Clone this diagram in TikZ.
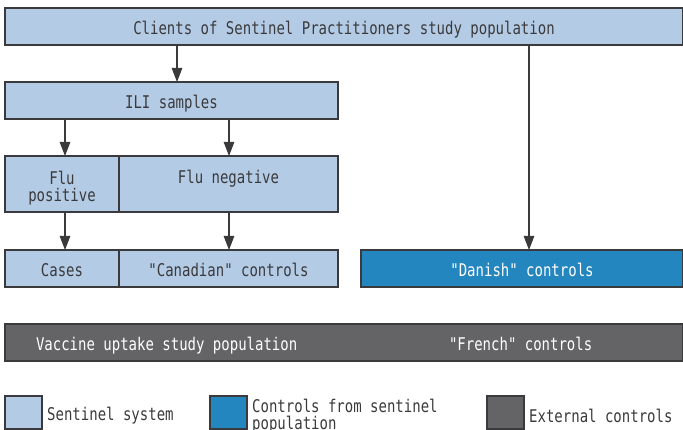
\documentclass[tikz,border=0pt]{standalone}
\usepackage{fontspec}
\setmainfont{DejaVu Sans Mono}[FakeStretch=0.8,Ligatures=TeXOff]
\usetikzlibrary{arrows.meta,positioning}
\definecolor{sentinelblue}{HTML}{B4CBE5}
\definecolor{controlblue}{HTML}{2486BF}
\definecolor{externalgray}{HTML}{646466}
\definecolor{edgegray}{HTML}{3A3A3C}

\begin{document}
\begin{tikzpicture}[x=1pt,y=-1pt,>={Triangle[length=14pt,width=10.5pt]},
	txt/.style={inner sep=0pt,outer sep=0pt,font=\fontsize{17.5}{17}\selectfont,
		text height=15.8pt,text depth=0pt},
	box/.style={txt,draw=edgegray,line width=1.3pt,anchor=north west,text=edgegray},
	arr/.style={->,draw=edgegray,line width=1.2pt}] % study design
	\useasboundingbox (0,0) rectangle (683,430);
	
	\node[box,fill=sentinelblue,minimum width=678,minimum height=37] 
	(clients) at (5,8){Clients of Sentinel Practitioners study population};
	\node[box,fill=sentinelblue,minimum width=333,minimum height=37] 
	(ili) at (5,82){ILI samples};
	
	\node[box,fill=sentinelblue,minimum width=114,minimum height=56,
	label={[txt,text=edgegray,align=center,text height=,text depth=,yshift=-4.4pt]center:Flu\\positive}] 
	(flupos) at (5,156){};
	\node[box,fill=sentinelblue,minimum width=219,minimum height=56,
	label={[txt,text=edgegray,yshift=8.5pt]center:Flu negative}] 
	(fluneg) at (flupos.north east){};
	
	\node[box,fill=sentinelblue,minimum width=114,minimum height=37] 
	(cases) at (5,250){Cases};
	\node[box,fill=sentinelblue,minimum width=219,minimum height=37] 
	(canadian) at (cases.north east){"Canadian" controls};
	\node[box,fill=controlblue,text=white,minimum width=322,minimum height=37] 
	(danish) at (361,250){"Danish" controls};
	
	\node[box,fill=externalgray,minimum width=678,minimum height=37] 
	(uptake) at (5,324){};
	\node[txt,text=white,anchor=west] 
	at ([xshift=31pt]uptake.west) {Vaccine uptake study population};
	\node[txt,text=white,anchor=west] 
	at ([xshift=444pt]uptake.west) {"French" controls};
	
	\draw[arr] ([xshift=5.5pt]ili.north |- clients.south)--([xshift=5.5pt]ili.north);
	\foreach \a/\b/\s in {flupos/cases/3pt, fluneg/canadian/0.5pt}{
		\draw[arr] ([xshift=\s]\a.north |- ili.south)--([xshift=\s]\a.north);
		\draw[arr] ([xshift=\s]\a.south)--([xshift=\s]\b.north);}
	\draw[arr] ([xshift=7pt]danish.north |- clients.south)--([xshift=7pt]danish.north);
	
	% legend
	\foreach \c/\x/\n/\t in {sentinelblue/5/sentinel/Sentinel system,
		controlblue/210/fromsentinel/{Controls from sentinel\\population},
		externalgray/487/external/External controls}{
		\node[box,fill=\c,minimum width=37,minimum height=33] (\n) at (\x,396){};
		\node[right=5pt of \n,text=edgegray,align=left,
		font=\fontsize{17.5}{17}\selectfont,inner sep=0pt,yshift=-3.5pt] {\t};
	}
\end{tikzpicture}
\end{document}
